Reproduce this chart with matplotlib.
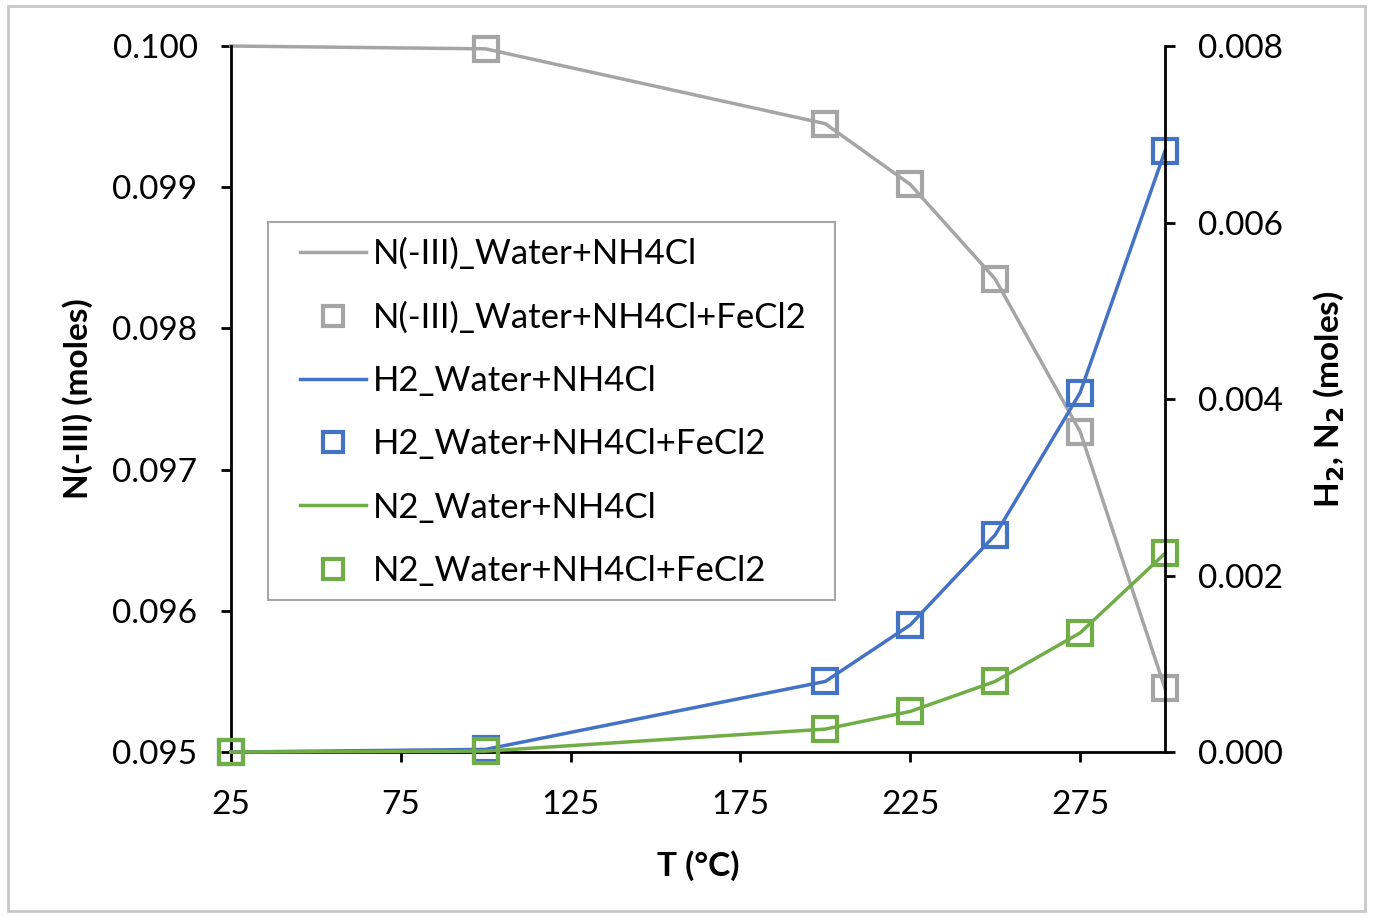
import matplotlib.pyplot as plt
import matplotlib.patches as patches
from matplotlib.lines import Line2D
from matplotlib.ticker import FormatStrFormatter

plt.rcParams['font.family'] = ['Lato', 'DejaVu Sans']

# temperature (°C)
T = [25, 100, 200, 225, 250, 275, 300]

# N(-III) moles (left axis)
n3_water = [0.1000, 0.09998, 0.09945, 0.09902, 0.09835, 0.09727, 0.09545]
n3_fecl2 = [None, 0.09998, 0.09945, 0.09902, 0.09835, 0.09727, 0.09545]

# H2 and N2 moles (right axis)
h2_water = [0.0, 0.00003, 0.00080, 0.00144, 0.00246, 0.00407, 0.00681]
h2_fecl2 = [0.0, 0.00003, 0.00080, 0.00144, 0.00246, 0.00407, 0.00681]
n2_water = [0.0, 0.00001, 0.00026, 0.00046, 0.00080, 0.00135, 0.00225]
n2_fecl2 = [0.0, 0.00001, 0.00026, 0.00046, 0.00080, 0.00135, 0.00225]

x_ticks = [25, 75, 125, 175, 225, 275]

gray = '#a5a5a5'
blue = '#4472c4'
green = '#70ad47'

fig = plt.figure(figsize=(13.73, 9.17), dpi=100)
ax = fig.add_axes([0.1682, 0.1799, 0.6803, 0.7699])
ax2 = ax.twinx()

mk = dict(ls='none', marker='s', ms=17, mfc='none', mew=3, clip_on=False)

# gray series on left axis
ax.plot(T, n3_water, color=gray, lw=2.5, zorder=2, clip_on=False)
tx = [t for t, v in zip(T, n3_fecl2) if v is not None]
vy = [v for v in n3_fecl2 if v is not None]
ax.plot(tx, vy, mec=gray, zorder=3, **mk)

# H2 / N2 on right axis
ax2.plot(T, h2_water, color=blue, lw=2.5, clip_on=False)
ax2.plot(T, h2_fecl2, mec=blue, **mk)
ax2.plot(T, n2_water, color=green, lw=2.5, clip_on=False)
ax2.plot(T, n2_fecl2, mec=green, **mk)

ax.set_xlim(25, 300)
ax.set_ylim(0.095, 0.100)
ax2.set_ylim(0.0, 0.008)
ax.set_xticks(x_ticks)
ax.set_yticks([0.095, 0.096, 0.097, 0.098, 0.099, 0.100])
ax2.set_yticks([0.0, 0.002, 0.004, 0.006, 0.008])
ax.yaxis.set_major_formatter(FormatStrFormatter('%.3f'))
ax2.yaxis.set_major_formatter(FormatStrFormatter('%.3f'))

for a in (ax, ax2):
    a.spines['top'].set_visible(False)
    for s in ('left', 'right', 'bottom'):
        a.spines[s].set_linewidth(2)
        a.spines[s].set_color('black')
    a.tick_params(direction='out', length=7, width=2, labelsize=24, pad=17)
ax.spines['right'].set_visible(False)
ax2.spines['left'].set_visible(False)
ax2.spines['bottom'].set_visible(False)
ax.tick_params(axis='x', pad=20)

ax.set_xlabel('T (°C)', fontsize=24, fontweight='bold', labelpad=22)
ax.set_ylabel('N(-III) (moles)', fontsize=24, fontweight='bold', labelpad=14)
ax2.set_ylabel('H$_\\mathbf{2}$, N$_\\mathbf{2}$ (moles)', fontsize=24, fontweight='bold', labelpad=20)

handles = [
    Line2D([], [], color=gray, lw=2.5),
    Line2D([], [], ls='none', marker='s', ms=15, mfc='none', mec=gray, mew=3),
    Line2D([], [], color=blue, lw=2.5),
    Line2D([], [], ls='none', marker='s', ms=15, mfc='none', mec=blue, mew=3),
    Line2D([], [], color=green, lw=2.5),
    Line2D([], [], ls='none', marker='s', ms=15, mfc='none', mec=green, mew=3),
]
labels = ['N(-III)_Water+NH4Cl', 'N(-III)_Water+NH4Cl+FeCl2', 'H2_Water+NH4Cl',
          'H2_Water+NH4Cl+FeCl2', 'N2_Water+NH4Cl', 'N2_Water+NH4Cl+FeCl2']
leg = ax2.legend(handles, labels, loc='upper left', bbox_to_anchor=(0.0739, 0.728),
                 fontsize=25, frameon=False, borderpad=0, borderaxespad=0,
                 labelspacing=0.9, handlelength=1.9, handletextpad=0.2)

# legend frame
ax2.add_patch(patches.Rectangle((0.0396, 0.2153), 0.6071, 0.5354, transform=ax2.transAxes,
                                fill=True, facecolor='white', edgecolor='#a6a6a6', lw=1.5,
                                zorder=4))
leg.set_zorder(5)

# light outer border of the chart area
fig.add_artist(patches.Rectangle((0.006, 0.006), 0.988, 0.988, transform=fig.transFigure,
                                 fill=False, edgecolor='#c8c8c8', lw=2))

fig.savefig('out.png', dpi=100)
